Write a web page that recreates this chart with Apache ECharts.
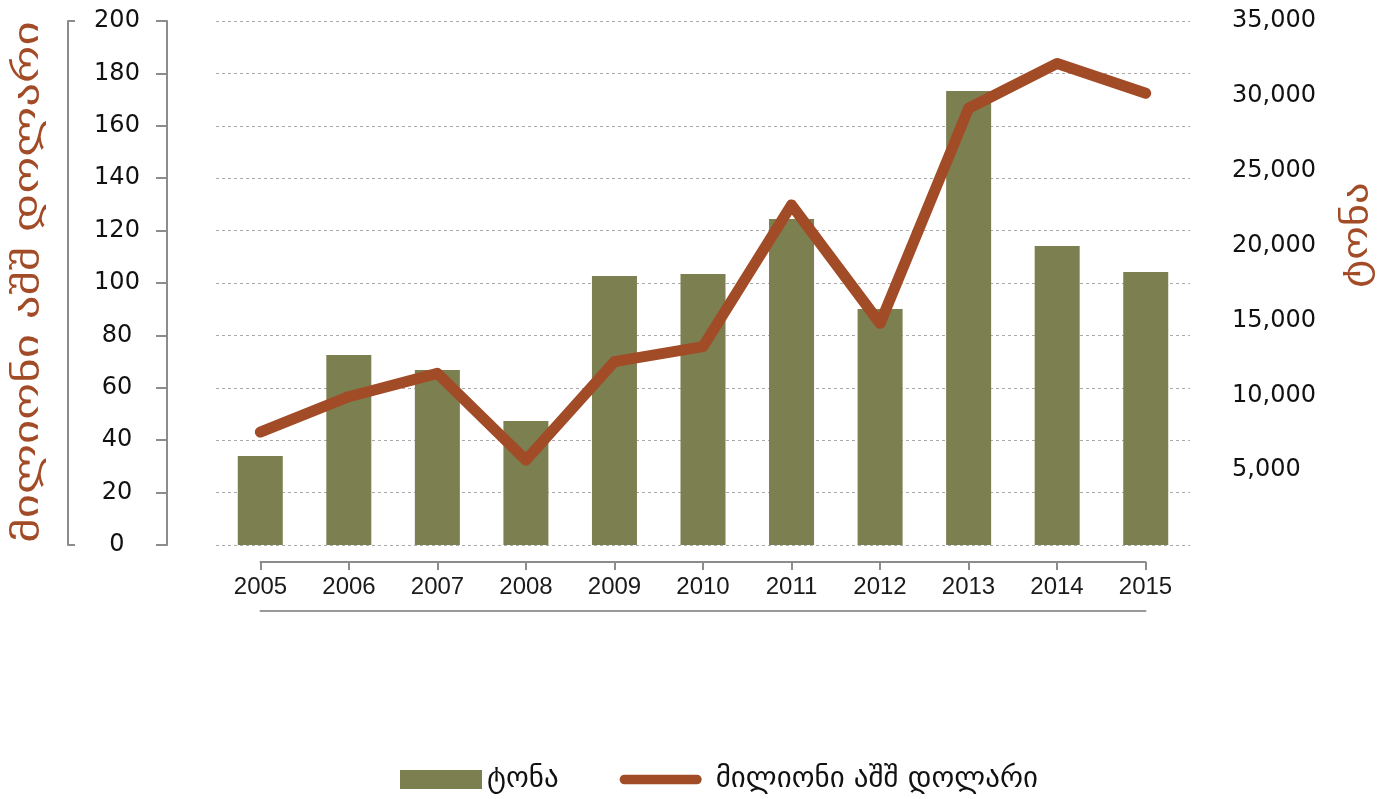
<!DOCTYPE html>
<html>
<head>
<meta charset="utf-8">
<script src="https://cdn.jsdelivr.net/npm/echarts@6/dist/echarts.min.js"></script>
<style>
  html, body { margin: 0; padding: 0; background: #fff; }
  #chart { width: 1392px; height: 799px; }
</style>
</head>
<body>
<div id="chart"></div>
<script>
// data
var years = ['2005', '2006', '2007', '2008', '2009', '2010', '2011', '2012', '2013', '2014', '2015']
var tonnes = [5950, 12690, 11690, 8280, 17970, 18100, 21780, 15760, 30320, 19970, 18240]
var usdMillion = [43.1, 56.6, 65.5, 32.4, 70.0, 75.7, 129.8, 84.6, 166.7, 183.8, 172.4]
var leftTicks = { min: 0, max: 200, interval: 20 }
var rightTicks = { min: 0, max: 35000, interval: 5000 }

var nameTonnes = 'ტონა'
var nameUsd = 'მილიონი აშშ დოლარი'

var barColor = '#7c7f50'
var lineColor = '#a24b27'
var axisGray = '#8c8c8c'
var geoFont = 'DejaVu Sans'

function thousands(v) {
  return String(v).replace(/\B(?=(\d{3})+(?!\d))/g, ',')
}

var chart = echarts.init(document.getElementById('chart'))

chart.setOption({
  animation: false,
  grid: [
    { left: 216, right: 202, top: 21, bottom: 254 },
    // only for the year axis, which runs from first to last category centre
    { left: 260.5, right: 246.5, top: 21, bottom: 254 }
  ],
  // axis titles, stretched a little along the text like the original font
  graphic: [
    {
      type: 'text',
      x: 29,
      y: 282,
      rotation: Math.PI / 2,
      scaleX: 1.34,
      style: {
        text: nameUsd,
        font: '35px "DejaVu Sans"',
        fill: lineColor,
        align: 'center',
        verticalAlign: 'middle'
      }
    },
    {
      type: 'text',
      x: 1358,
      y: 235,
      rotation: Math.PI / 2,
      scaleX: 1.22,
      style: {
        text: nameTonnes,
        font: '35px "DejaVu Sans"',
        fill: lineColor,
        align: 'center',
        verticalAlign: 'middle'
      }
    }
  ],
  legend: {
    left: 400,
    top: 765,
    padding: 0,
    itemWidth: 82,
    itemHeight: 19,
    itemGap: 61,
    textStyle: { fontFamily: geoFont, fontSize: 29, color: '#111' },
    data: [
      { name: nameTonnes, icon: 'rect' },
      {
        name: nameUsd,
        icon: 'path://M5,0 H80 A5,5 0 0 1 80,10 H5 A5,5 0 0 1 5,0 Z',
        textStyle: { padding: [0, 0, 0, 9] }
      }
    ]
  },
  xAxis: [
    {
      type: 'category',
      gridIndex: 0,
      data: years,
      show: false
    },
    {
      type: 'category',
      gridIndex: 1,
      position: 'bottom',
      data: years,
      boundaryGap: false,
      offset: 17,
      axisLine: { onZero: false, lineStyle: { color: axisGray, width: 2 } },
      axisTick: { length: 8, lineStyle: { color: axisGray, width: 2 } },
      axisLabel: {
        interval: 0,
        margin: 13,
        color: '#1a1a1a',
        fontFamily: 'Liberation Sans',
        fontSize: 24
      },
      splitLine: { show: false }
    },
    {
      type: 'category',
      gridIndex: 1,
      position: 'bottom',
      data: years,
      boundaryGap: false,
      offset: 66,
      axisLine: { onZero: false, lineStyle: { color: '#999', width: 2 } },
      axisTick: { show: false },
      axisLabel: { show: false },
      splitLine: { show: false }
    }
  ],
  yAxis: [
    {
      type: 'value',
      gridIndex: 0,
      position: 'left',
      min: leftTicks.min,
      max: leftTicks.max,
      interval: leftTicks.interval,
      offset: 49,
      axisLine: { show: true, lineStyle: { color: axisGray, width: 2 } },
      axisTick: { show: true, length: 11, lineStyle: { color: axisGray, width: 2 } },
      axisLabel: {
        align: 'center',
        margin: 50,
        color: '#111',
        fontFamily: 'DejaVu Sans',
        fontSize: 24
      },
      splitLine: {
        show: true,
        lineStyle: { color: '#aaa', type: [3, 3], width: 1 }
      }
    },
    {
      type: 'value',
      gridIndex: 0,
      position: 'right',
      min: rightTicks.min,
      max: rightTicks.max,
      interval: rightTicks.interval,
      axisLine: { show: false },
      axisTick: { show: false },
      splitLine: { show: false },
      axisLabel: {
        margin: 42,
        color: '#111',
        fontFamily: 'DejaVu Sans',
        fontSize: 24,
        formatter: function (v) {
          return v > 0 ? thousands(v) : ''
        }
      }
    },
    {
      // the outer bracket on the left
      type: 'value',
      gridIndex: 0,
      position: 'left',
      min: leftTicks.min,
      max: leftTicks.max,
      interval: leftTicks.max,
      offset: 148,
      axisLine: { show: true, lineStyle: { color: axisGray, width: 2 } },
      axisTick: { show: true, inside: true, length: 7, lineStyle: { color: axisGray, width: 2 } },
      axisLabel: { show: false },
      splitLine: { show: false }
    },
    {
      type: 'value',
      gridIndex: 1,
      show: false
    }
  ],
  series: [
    {
      name: nameTonnes,
      type: 'bar',
      xAxisIndex: 0,
      yAxisIndex: 1,
      barWidth: 45,
      data: tonnes,
      itemStyle: { color: barColor }
    },
    {
      name: nameUsd,
      type: 'line',
      xAxisIndex: 0,
      yAxisIndex: 0,
      data: usdMillion,
      symbol: 'none',
      lineStyle: { color: lineColor, width: 11, cap: 'round', join: 'round' },
      itemStyle: { color: lineColor },
      z: 3
    }
  ]
})
</script>
</body>
</html>
